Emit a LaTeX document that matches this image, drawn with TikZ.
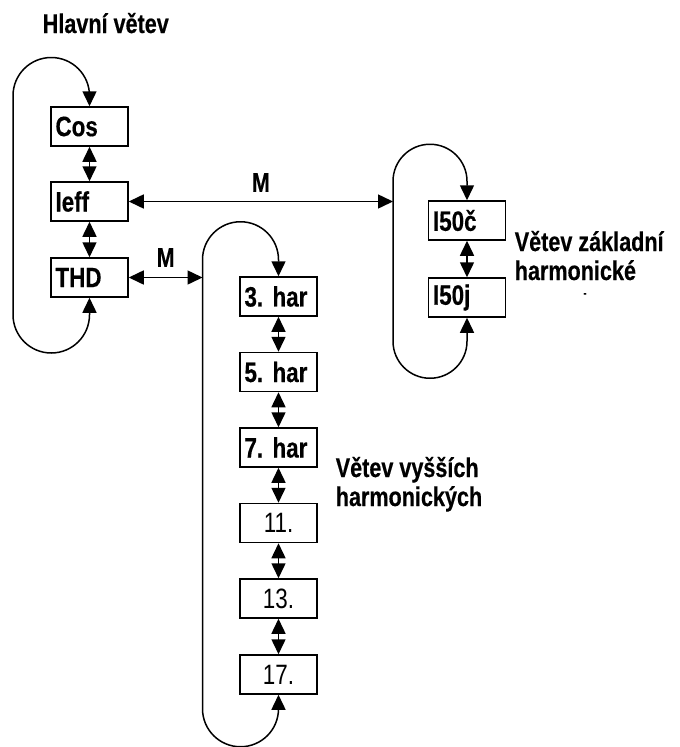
\documentclass[tikz,border=0pt]{standalone}
\usepackage{fontspec}
\setmainfont{Liberation Sans}[FakeStretch=0.8,BoldFeatures={FakeBold=0.4}]
\usetikzlibrary{arrows.meta}
\begin{document}
\begin{tikzpicture}[x=1pt,y=-1pt,
  line width=1.5pt,
  >={Triangle[length=15pt,width=14pt]},
  every node/.style={font=\fontsize{27}{29}\selectfont},
  box/.style={draw,minimum width=77pt,minimum height=39pt,inner xsep=4pt,inner ysep=0pt,text width=68pt,align=left,font=\fontsize{28}{29}\selectfont\bfseries},
  nbox/.style={draw,minimum width=77pt,minimum height=39pt,inner xsep=4pt,inner ysep=0pt,text width=68pt,align=center,font=\fontsize{28}{29}\selectfont},
  lbl/.style={font=\fontsize{27}{29}\selectfont\bfseries,align=left,inner sep=0pt},
  dbl/.style={<->}]
\useasboundingbox (0,0) rectangle (680,747);

% main branch
\node[lbl,anchor=base west] (h1) at (42,33) {Hlavní větev};
\node[box] (cos) at (89.5,126.5) {Cos};
\node[box] (ieff) at (89.5,201.5) {Ieff};
\node[box] (thd) at (89.5,277.5) {THD};
\draw[dbl] (cos) -- (ieff);
\draw[dbl] (ieff) -- (thd);
\draw[dbl] (thd.south) -- ++(0,17) arc[start angle=0,end angle=180,radius=38.25]
   -- ++(0,-219) arc[start angle=180,end angle=360,radius=38.25] -- (cos.north);

% fundamental branch
\node[box] (c50) at (467,220.5) {I50č};
\node[box] (j50) at (467,297.5) {I50j};
\draw[dbl] (c50) -- (j50);
\draw[dbl] (j50.south) -- ++(0,23.5) arc[start angle=0,end angle=180,radius=37]
   -- ++(0,-160) arc[start angle=180,end angle=360,radius=37] -- (c50.north);
\coordinate (rl) at (393,201.5);
\draw[dbl] (ieff.east) -- node[lbl,above=9pt] (m1) {M} (rl);
\node[lbl,anchor=base west] (t2) at (514,280) {Větev základní\\harmonické};
\node[inner sep=0pt,font=\fontsize{12}{12}\selectfont\bfseries] (dash) at (585,295) {-};

% harmonics branch
\node[box] (h3) at (278.5,296.5) {3.\ har};
\node[box] (h5) at (278.5,372) {5.\ har};
\node[box] (h7) at (278.5,447.5) {7.\ har};
\node[nbox] (h11) at (278.5,523) {11.};
\node[nbox] (h13) at (278.5,598.5) {13.};
\node[nbox] (h17) at (278.5,674.5) {17.};
\draw[dbl] (h3) -- (h5);
\draw[dbl] (h5) -- (h7);
\draw[dbl] (h7) -- (h11);
\draw[dbl] (h11) -- (h13);
\draw[dbl] (h13) -- (h17);
\draw[dbl] (h17.south) -- ++(0,14) arc[start angle=0,end angle=180,radius=38]
   -- ++(0,-449) arc[start angle=180,end angle=360,radius=38] -- (h3.north);
\coordinate (ml) at (202.5,277.5);
\draw[dbl] (thd.east) -- node[lbl,above=10pt] (m2) {M} (ml);
\node[lbl,anchor=base west] (t3) at (335,506) {Větev vyšších\\harmonických};
\end{tikzpicture}
\end{document}
